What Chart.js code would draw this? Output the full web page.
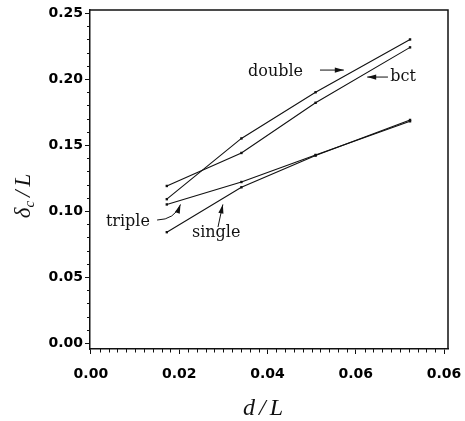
<!DOCTYPE html>
<html>
<head>
<meta charset="utf-8">
<script src="https://cdn.jsdelivr.net/npm/chart.js@4.4.0/dist/chart.umd.min.js"></script>
<style>
  html, body { margin: 0; padding: 0; background: #fff; }
</style>
</head>
<body>
<canvas id="chart" width="465" height="421"></canvas>
<script>
// d/L of the four runs
const dOverL = [0.0172, 0.0341, 0.0509, 0.0723];

// delta_c / L for each lattice
const doubleVals = [0.109, 0.155, 0.190, 0.230];
const bctVals    = [0.119, 0.144, 0.182, 0.224];
const tripleVals = [0.105, 0.122, 0.1425, 0.168];
const singleVals = [0.084, 0.118, 0.142, 0.169];

// major ticks and the labels printed under them
const xTicks      = [0, 0.02, 0.04, 0.06, 0.08];
const xTickLabels = ['0.00', '0.02', '0.04', '0.06', '0.06'];
const yTicks      = [0, 0.05, 0.10, 0.15, 0.20, 0.25];
const yTickLabels = ['0.00', '0.05', '0.10', '0.15', '0.20', '0.25'];
const xMinorStep = 0.002;
const yMinorStep = 0.01;

const X_MIN = -0.0002, X_MAX = 0.0809;
const Y_MIN = -0.0045, Y_MAX = 0.2523;

// curve labels and their arrows, in data units
const notes = [
  { text: 'double', x: 0.0356, y: 0.2053 },
  { text: 'bct',    x: 0.0678, y: 0.2015 },
  { text: 'triple', x: 0.0034, y: 0.0917 },
  { text: 'single', x: 0.0229, y: 0.0833 }
];
const arrows = [
  { from: [0.0519, 0.2068], to: [0.0573, 0.2068] },
  { from: [0.0673, 0.2015], to: [0.0626, 0.2015] },
  { from: [0.0150, 0.0932], ctrl: [0.0190, 0.0935], to: [0.0203, 0.1050] },
  { from: [0.0288, 0.0879], ctrl: [0.0293, 0.0960], to: [0.0299, 0.1050] }
];

const INK = '#111';
const SERIF = '"DejaVu Serif", serif';
const MATH = '"Liberation Serif", "Times New Roman", serif';

function series(vals) {
  return {
    data: dOverL.map((x, i) => ({ x, y: vals[i] })),
    borderColor: INK,
    borderWidth: 1.1,
    pointStyle: 'rect',
    pointRadius: 1.7,
    pointBackgroundColor: INK,
    pointBorderWidth: 0,
    tension: 0
  };
}

function arrowHead(ctx, x0, y0, x1, y1) {
  const a = Math.atan2(y1 - y0, x1 - x0);
  const len = 9, half = 2.6;
  ctx.beginPath();
  ctx.moveTo(x1, y1);
  ctx.lineTo(x1 - len * Math.cos(a) + half * Math.sin(a), y1 - len * Math.sin(a) - half * Math.cos(a));
  ctx.lineTo(x1 - len * Math.cos(a) - half * Math.sin(a), y1 - len * Math.sin(a) + half * Math.cos(a));
  ctx.closePath();
  ctx.fill();
}

const decor = {
  id: 'decor',
  afterDraw(chart) {
    const { ctx, chartArea: ca } = chart;
    const xs = chart.scales.x, ys = chart.scales.y;
    ctx.save();
    ctx.strokeStyle = INK;
    ctx.fillStyle = INK;

    // top and right edges of the frame
    ctx.lineWidth = 1.5;
    ctx.beginPath();
    ctx.moveTo(ca.left, ca.top);
    ctx.lineTo(ca.right, ca.top);
    ctx.lineTo(ca.right, ca.bottom);
    ctx.stroke();

    // minor ticks
    ctx.lineWidth = 1;
    ctx.beginPath();
    for (let k = 1; k * yMinorStep < Y_MAX; k++) {
      if (k % 5 === 0) continue;
      const py = Math.round(ys.getPixelForValue(k * yMinorStep)) + 0.5;
      ctx.moveTo(ca.left - 3, py);
      ctx.lineTo(ca.left, py);
    }
    for (let k = 1; k * xMinorStep < X_MAX; k++) {
      if (k % 10 === 0) continue;
      const px = Math.round(xs.getPixelForValue(k * xMinorStep)) + 0.5;
      ctx.moveTo(px, ca.bottom);
      ctx.lineTo(px, ca.bottom + 3.5);
    }
    ctx.stroke();

    // curve labels
    ctx.font = '16px ' + SERIF;
    ctx.textAlign = 'left';
    ctx.textBaseline = 'middle';
    notes.forEach(n => {
      ctx.fillText(n.text, xs.getPixelForValue(n.x), ys.getPixelForValue(n.y));
    });

    // arrows
    ctx.lineWidth = 1;
    arrows.forEach(a => {
      const x0 = xs.getPixelForValue(a.from[0]), y0 = ys.getPixelForValue(a.from[1]);
      const x1 = xs.getPixelForValue(a.to[0]),   y1 = ys.getPixelForValue(a.to[1]);
      ctx.beginPath();
      ctx.moveTo(x0, y0);
      let bx = x0, by = y0;
      if (a.ctrl) {
        bx = xs.getPixelForValue(a.ctrl[0]);
        by = ys.getPixelForValue(a.ctrl[1]);
        ctx.quadraticCurveTo(bx, by, x1, y1);
      } else {
        ctx.lineTo(x1, y1);
      }
      ctx.stroke();
      arrowHead(ctx, bx, by, x1, y1);
    });

    // x title: d / L
    ctx.textBaseline = 'alphabetic';
    ctx.font = 'italic 24px ' + MATH;
    const xParts = ['d', '/', 'L'];
    const gap = 4;
    const wx = xParts.reduce((s, p) => s + ctx.measureText(p).width, 0) + gap * 2;
    let cx = (ca.left + ca.right) / 2 - 6 - wx / 2;
    xParts.forEach(p => {
      ctx.fillText(p, cx, 415);
      cx += ctx.measureText(p).width + gap;
    });

    // y title: delta_c / L, rotated
    ctx.translate(30, 196);
    ctx.rotate(-Math.PI / 2);
    const big = 'italic 23px ' + MATH, small = 'italic 15px ' + MATH;
    ctx.font = big;
    const wd = ctx.measureText('δ').width;
    const wsl = ctx.measureText('/').width;
    const wl = ctx.measureText('L').width;
    ctx.font = small;
    const wc = ctx.measureText('c').width;
    const total = wd + wc + wsl + wl + 8;
    let ty = -total / 2;
    ctx.font = big;
    ctx.fillText('δ', ty, 0);
    ty += wd;
    ctx.font = small;
    ctx.fillText('c', ty, 4);
    ty += wc + 4;
    ctx.font = big;
    ctx.fillText('/', ty, 0);
    ty += wsl + 4;
    ctx.fillText('L', ty, 0);

    ctx.restore();
  }
};

const tickFont = { family: '"DejaVu Sans", sans-serif', size: 14, weight: 'bold' };

new Chart(document.getElementById('chart'), {
  type: 'line',
  data: {
    datasets: [series(doubleVals), series(bctVals), series(tripleVals), series(singleVals)]
  },
  options: {
    responsive: false,
    animation: false,
    devicePixelRatio: 1,
    layout: { padding: { left: 0, top: 10, right: 17, bottom: 0 } },
    plugins: { legend: { display: false }, tooltip: { enabled: false } },
    scales: {
      x: {
        type: 'linear',
        min: X_MIN,
        max: X_MAX,
        afterBuildTicks: s => { s.ticks = xTicks.map(v => ({ value: v })); },
        afterFit: s => { s.height = 72; s.paddingLeft = 0; s.paddingRight = 0; },
        ticks: {
          callback: (v, i) => xTickLabels[i],
          font: tickFont,
          color: '#000',
          padding: 12,
          maxRotation: 0,
          autoSkip: false
        },
        grid: { drawOnChartArea: false, drawTicks: true, tickLength: 5, color: INK, lineWidth: 1 },
        border: { display: true, color: INK, width: 1.5 }
      },
      y: {
        type: 'linear',
        min: Y_MIN,
        max: Y_MAX,
        afterBuildTicks: s => { s.ticks = yTicks.map(v => ({ value: v })); },
        afterFit: s => { s.width = 90; s.paddingTop = 0; s.paddingBottom = 0; },
        ticks: {
          callback: (v, i) => yTickLabels[i],
          font: tickFont,
          color: '#000',
          padding: 2,
          autoSkip: false
        },
        grid: { drawOnChartArea: false, drawTicks: true, tickLength: 5, color: INK, lineWidth: 1 },
        border: { display: true, color: INK, width: 1.5 }
      }
    }
  },
  plugins: [decor]
});
</script>
</body>
</html>
